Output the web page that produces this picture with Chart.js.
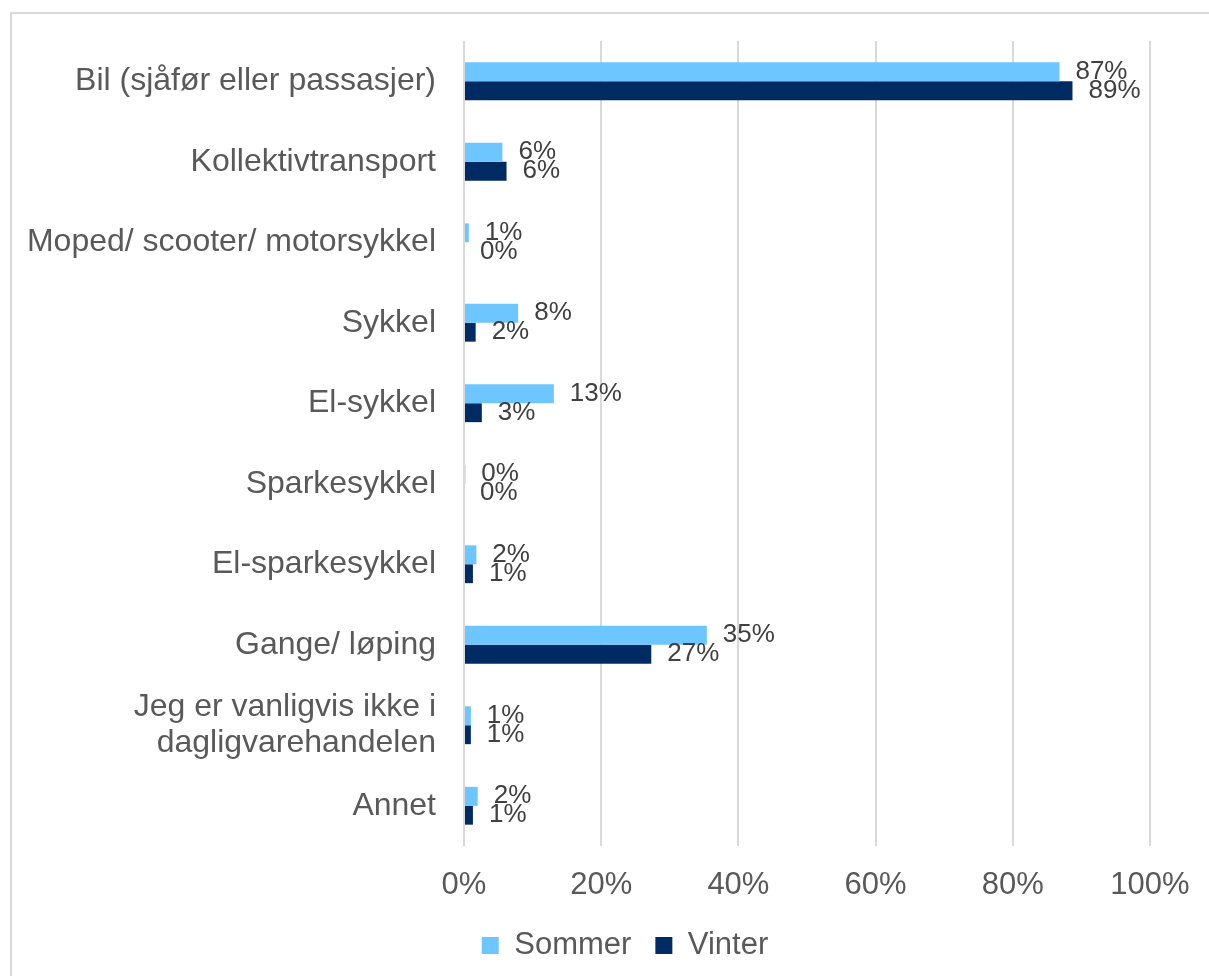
<!DOCTYPE html>
<html>
<head>
<meta charset="utf-8">
<script src="https://cdn.jsdelivr.net/npm/chart.js@4/dist/chart.umd.min.js"></script>
<style>
  html, body { margin: 0; padding: 0; background: #ffffff; overflow: hidden; }
  #wrap {
    position: absolute; left: 10px; top: 12px;
    width: 1226px; height: 980px;
    border: 2px solid #d9d9d9;
  }
</style>
</head>
<body>
<div id="wrap"><canvas id="barChart" width="1226" height="980"></canvas></div>
<script>
const FONT = '"Liberation Sans", Arial, sans-serif';

// Kategorier og verdier (prosent)
const categories = [
  'Bil (sjåfør eller passasjer)',
  'Kollektivtransport',
  'Moped/ scooter/ motorsykkel',
  'Sykkel',
  'El-sykkel',
  'Sparkesykkel',
  'El-sparkesykkel',
  'Gange/ løping',
  ['Jeg er vanligvis ikke i', 'dagligvarehandelen'],
  'Annet'
];
const sommer = [86.8, 5.6, 0.7, 7.9, 13.1, 0.2, 1.8, 35.4, 1.0, 2.0];
const vinter = [88.7, 6.2, 0.0, 1.7, 2.6, 0.0, 1.3, 27.3, 1.0, 1.3];
const xTicks = [0, 20, 40, 60, 80, 100];

// Verdietiketter til høyre for stolpene
const barLabels = {
  id: 'barLabels',
  afterDatasetsDraw(chart) {
    const ctx = chart.ctx;
    ctx.save();
    ctx.font = '26px ' + FONT;
    ctx.fillStyle = '#404040';
    ctx.textAlign = 'left';
    ctx.textBaseline = 'middle';
    chart.data.datasets.forEach((ds, i) => {
      chart.getDatasetMeta(i).data.forEach((bar, j) => {
        ctx.fillText(Math.round(ds.data[j]) + '%', bar.x + 16, bar.y);
      });
    });
    ctx.restore();
  }
};

// Forklaringen er sentrert på hele diagrammet, ikke bare venstre del
const legendShift = {
  id: 'legendShift',
  afterLayout(chart) {
    chart.legend.left += 44;
    chart.legend.right += 44;
  }
};

new Chart(document.getElementById('barChart'), {
  type: 'bar',
  data: {
    labels: categories,
    datasets: [
      {
        label: 'Sommer',
        data: sommer,
        backgroundColor: '#6DC6FF',
        categoryPercentage: 0.47,
        barPercentage: 1.0,
      },
      {
        label: 'Vinter',
        data: vinter,
        backgroundColor: '#002A62',
        categoryPercentage: 0.47,
        barPercentage: 1.0,
      },
    ],
  },
  options: {
    indexAxis: 'y',
    responsive: false,
    animation: false,
    layout: { padding: { top: 27, right: 88, left: 0, bottom: 23 } },
    plugins: {
      tooltip: { enabled: false },
      legend: {
        position: 'bottom',
        labels: {
          boxWidth: 17,
          boxHeight: 17,
          padding: 24,
          color: '#595959',
          font: { family: FONT, size: 31 },
        },
      },
    },
    scales: {
      x: {
        min: 0,
        max: 100,
        afterBuildTicks: (scale) => { scale.ticks = xTicks.map(v => ({ value: v })); },
        afterFit: (scale) => { scale.height = 60; },
        ticks: {
          padding: 21,
          color: '#595959',
          font: { family: FONT, size: 31 },
          callback: (v) => v + '%',
        },
        grid: { color: '#d9d9d9', lineWidth: 2, drawTicks: false },
        border: { display: false },
      },
      y: {
        afterFit: (scale) => {
          scale.width = 452;
          scale.paddingTop = 0;
          scale.paddingBottom = 0;
        },
        ticks: {
          padding: 28,
          color: '#595959',
          font: { family: FONT, size: 32, lineHeight: 1.15 },
        },
        grid: { display: false, drawTicks: false },
        border: { display: false },
      },
    },
  },
  plugins: [barLabels, legendShift],
});
</script>
</body>
</html>
